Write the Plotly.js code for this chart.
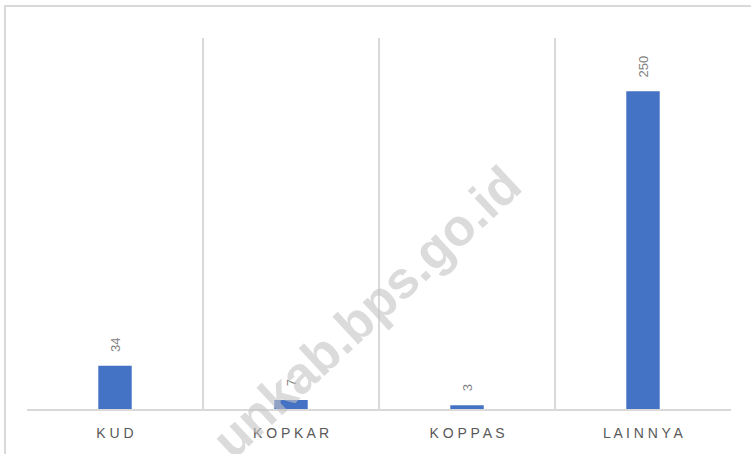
<!DOCTYPE html>
<html>
<head>
<meta charset="utf-8">
<script src="https://cdn.plot.ly/plotly-3.0.1.min.js"></script>
<style>
  html, body { margin: 0; padding: 0; background: #fff; overflow: hidden; }
  #frame {
    position: absolute; left: 4px; top: 5px; width: 800px; height: 500px;
    border-top: 2px solid #d9d9d9; border-left: 2px solid #d9d9d9;
  }
  #chart { position: absolute; left: 0; top: 0; width: 751px; height: 454px; }
</style>
</head>
<body>
<div id="frame"></div>
<div id="chart"></div>
<script>
const categories = ['KUD', 'KOPKAR', 'KOPPAS', 'LAINNYA'];
const counts = [34, 7, 3, 250];
const watermark = 'unkab.bps.go.id';

// spaced-out tick text, like the original letter spacing
const tickText = categories.map(c => c.split('').join(' '));
// rotated labels sit a bit above the bar
const barLabels = counts.map(v => '\u00a0\u00a0\u00a0' + v);

const trace = {
    x: categories, y: counts, type: 'bar',
    marker: { color: '#4472c4' },
    text: barLabels, textposition: 'outside', textangle: -90,
    textfont: { family: 'Liberation Sans', size: 13, color: '#7f7f7f' },
    cliponaxis: false,
    hoverinfo: 'skip'
};

const layout = {
    width: 751, height: 454,
    paper_bgcolor: 'rgba(0,0,0,0)', plot_bgcolor: 'rgba(0,0,0,0)',
    margin: { t: 38, b: 45, l: 27, r: 20 },
    bargap: 0.81,
    showlegend: false,
    xaxis: {
        type: 'category',
        tickvals: categories, ticktext: tickText,
        tickson: 'boundaries',
        showgrid: true, gridcolor: '#d9d9d9', gridwidth: 2,
        showline: true, linecolor: '#d9d9d9', linewidth: 2,
        ticks: '', ticklabelstandoff: 10,
        tickfont: { family: 'Liberation Sans', size: 14, color: '#595959' }
    },
    yaxis: {
        range: [0, 292],
        showgrid: false, zeroline: false, showticklabels: false, showline: false
    },
    annotations: [{
        xref: 'paper', yref: 'paper', x: 0.482, y: 0.262,
        xanchor: 'center', yanchor: 'middle',
        text: watermark, showarrow: false, textangle: -43,
        font: { family: 'Liberation Sans', size: 52, color: 'rgba(195,195,195,0.6)', weight: 'bold' }
    }]
};

Plotly.newPlot('chart', [trace], layout, { displayModeBar: false, staticPlot: true });
</script>
</body>
</html>
